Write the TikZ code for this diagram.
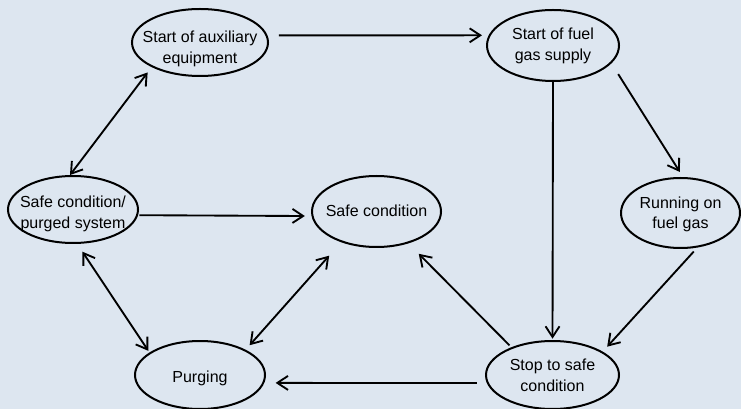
\documentclass[tikz,border=0pt]{standalone}
\usepackage{fontspec}
\setmainfont{Liberation Sans}
\usetikzlibrary{shapes.geometric,arrows.meta}

\definecolor{backblue}{RGB}{221,230,240}
% text of a state, smashed so that it does not widen the ellipse; optional downward shift
\newcommand{\statetext}[2][0pt]{\raisebox{\dimexpr-3pt-#1\relax}[0pt][0pt]{\makebox[0pt]{\begin{tabular}{@{}c@{}}#2\end{tabular}}}}

\tikzset{
  state/.style={draw, ellipse, line width=1.5pt, inner sep=0pt,
    font=\fontsize{12}{15.5}\selectfont},
  ellsize/.style 2 args={minimum width=#1*0.75pt, minimum height=#2*0.75pt},
  flow/.style={line width=1.4pt, -{Straight Barb[length=8pt,width=10.5pt]}},
  both/.style={line width=1.4pt,
    {Straight Barb[length=8pt,width=10.5pt]}-{Straight Barb[length=8pt,width=10.5pt]}},
}

\begin{document}
\begin{tikzpicture}[x=0.75pt, y=-0.75pt]
    \fill[backblue] (0,0) rectangle (741,409);
    \useasboundingbox (0,0) rectangle (741,409);

    % states
    \node[state, ellsize={136}{67}] (aux) at (200,42.5) {\statetext[5pt]{Start of auxiliary\\equipment}};
    \node[state, ellsize={132}{71}] (fuel) at (553,45.5) {\statetext[0.5pt]{Start of fuel\\gas supply}};
    \node[state, ellsize={130}{67}] (purged) at (73,209.5) {\statetext[3.5pt]{Safe condition/\\purged system}};
    \node[state, ellsize={129}{71}] (safe) at (376.5,211.5) {\statetext[1pt]{Safe condition}};
    \node[state, ellsize={119}{70}] (run) at (680.5,213) {\statetext[1pt]{Running on\\fuel gas}};
    \node[state, ellsize={130}{68}] (purge) at (200,375) {\statetext[2.5pt]{Purging}};
    \node[state, ellsize={133}{68}] (stop) at (552.5,375) {\statetext[1.5pt]{Stop to safe\\condition}};

    % transitions
    \draw[flow, shorten <=8.5pt, shorten >=5pt] (aux.6) -- (fuel.171);
    \draw[both, shorten <=5pt] (aux.207) -- (purged.95);
    \draw[flow, shorten <=1pt, shorten >=5pt] (purged.-5) -- (safe.184);
    \draw[both, shorten <=7pt, shorten >=1.5pt] (purged.277) -- (purge.156);
    \draw[both, shorten <=13.5pt, shorten >=4.5pt] (safe.221) -- (purge.29);
    \draw[flow, shorten <=7.5pt, shorten >=8.5pt] (stop.187) -- (purge.-7);
    \draw[flow, shorten <=2pt, shorten >=11pt] (stop.146) -- (safe.-45);
    \draw[flow, shorten >=1pt] (fuel.south) -- (stop.north);
    \draw[flow, shorten <=9.5pt, shorten >=4.5pt] (fuel.-17) -- (run.86);
    \draw[flow, shorten <=4pt, shorten >=5pt] (run.-64) -- (stop.25);

\end{tikzpicture}
\end{document}
